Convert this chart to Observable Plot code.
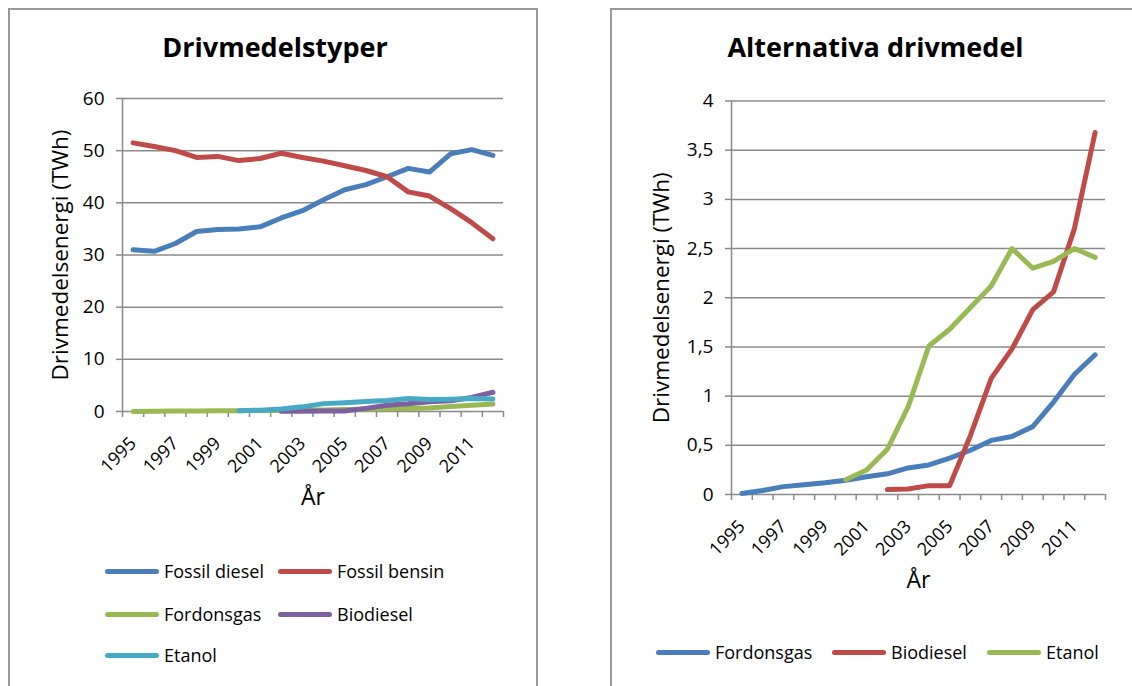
<!DOCTYPE html>
<html>
<head>
<meta charset="utf-8">
<script src="https://cdn.jsdelivr.net/npm/d3@7"></script>
<script src="https://cdn.jsdelivr.net/npm/@observablehq/plot@0.6"></script>
<style>
  html, body { margin: 0; padding: 0; background: #fff; }
  #root { position: relative; width: 1132px; height: 686px; overflow: hidden; background: #fff; font-family: 'Open Sans', sans-serif; }
  .panel { position: absolute; border: 2px solid #9a9a9a; box-sizing: border-box; }
  .chart { position: absolute; top: 0; }
  .leg { position: absolute; display: flex; align-items: center; font-size: 18px; color: #000; white-space: nowrap; height: 24px; }
  .leg .sw { display: inline-block; width: 54px; height: 5px; border-radius: 3px; margin-right: 5px; }
</style>
</head>
<body>
<div id="root">
  <div class="panel" style="left:8px; top:8px; width:530px; height:720px;"></div>
  <div class="panel" style="left:610px; top:8px; width:600px; height:720px;"></div>
</div>
<script>
// ---- data ----
const years = [1995, 1996, 1997, 1998, 1999, 2000, 2001, 2002, 2003, 2004, 2005, 2006, 2007, 2008, 2009, 2010, 2011, 2012];
const labelYears = [1995, 1997, 1999, 2001, 2003, 2005, 2007, 2009, 2011];
const fossilDiesel = [31.0, 30.7, 32.2, 34.5, 34.9, 35.0, 35.4, 37.1, 38.5, 40.6, 42.5, 43.5, 45.0, 46.6, 45.9, 49.4, 50.2, 49.1];
const fossilBensin = [51.5, 50.8, 50.0, 48.7, 48.9, 48.1, 48.5, 49.5, 48.7, 48.0, 47.1, 46.2, 45.0, 42.1, 41.3, 38.9, 36.2, 33.1];
const fordonsgas = [0.01, 0.04, 0.08, 0.10, 0.12, 0.145, 0.18, 0.21, 0.27, 0.30, 0.37, 0.45, 0.55, 0.59, 0.69, 0.94, 1.22, 1.42];
const biodiesel = [null, null, null, null, null, null, null, 0.05, 0.055, 0.09, 0.09, 0.60, 1.18, 1.48, 1.88, 2.06, 2.70, 3.68];
const etanol = [null, null, null, null, null, 0.15, 0.25, 0.46, 0.89, 1.51, 1.68, 1.90, 2.12, 2.50, 2.30, 2.37, 2.50, 2.41];
const leftSeries = ["Fossil diesel", "Fossil bensin", "Fordonsgas", "Biodiesel", "Etanol"];
const rightSeries = ["Fordonsgas", "Biodiesel", "Etanol"];
const leftTicks = [0, 10, 20, 30, 40, 50, 60];
const rightTicks = [0, 0.5, 1, 1.5, 2, 2.5, 3, 3.5, 4];
const titles = ["Drivmedelstyper", "Alternativa drivmedel"];
const yLabel = "Drivmedelsenergi (TWh)";
const xLabel = "År";

// ---- styling ----
// series colours follow the order of the series within each chart
const palette = ["#4A7EBB", "#BE4B48", "#98B954", "#7D60A0", "#46AAC5"];
const GRID = "#8a8a8a";
const valuesOf = {
  "Fossil diesel": fossilDiesel,
  "Fossil bensin": fossilBensin,
  "Fordonsgas": fordonsgas,
  "Biodiesel": biodiesel,
  "Etanol": etanol
};
function rows(name) {
  return years.map((y, i) => ({year: y, value: valuesOf[name][i], series: name})).filter(d => d.value != null);
}
const boundaries = [years[0] - 0.5, ...years.map(y => y + 0.5)];
const xDomain = [years[0] - 0.5, years[years.length - 1] + 0.5];

function makeChart({series, ticks, yMax, fmt, width, height, mL, mR, mT, mB, title, titleDx, titleDy, yDx}) {
  return Plot.plot({
    width, height,
    marginLeft: mL, marginRight: mR, marginTop: mT, marginBottom: mB,
    style: {fontFamily: "'Open Sans', sans-serif", color: "#000", background: "transparent", overflow: "visible"},
    x: {domain: xDomain, axis: null},
    y: {domain: [0, yMax], axis: null},
    color: {domain: series, range: palette.slice(0, series.length)},
    marks: [
      Plot.gridY(ticks, {stroke: GRID, strokeOpacity: 1, strokeWidth: 1.5}),
      Plot.axisY(ticks, {tickSize: 6, tickPadding: 12, stroke: GRID, strokeWidth: 1.5, fontSize: 19, tickFormat: fmt, label: null}),
      Plot.ruleX([xDomain[0]], {stroke: GRID, strokeWidth: 1.5}),
      Plot.axisX(boundaries, {tickSize: 6, stroke: GRID, strokeWidth: 1.5, tickFormat: () => "", label: null}),
      Plot.axisX(labelYears, {tickSize: 0, tickPadding: 29, tickRotate: -45, fontSize: 18, tickFormat: d => String(d), label: null}),
      ...series.map(name => Plot.line(rows(name), {
        x: "year", y: "value", stroke: "series", strokeWidth: 5,
        strokeLinecap: "round", strokeLinejoin: "round"
      })),
      Plot.text([title], {text: d => d, frameAnchor: "top", dx: titleDx, dy: titleDy, fontSize: 27, fontWeight: "bold", lineAnchor: "middle"}),
      Plot.text([yLabel], {text: d => d, frameAnchor: "left", dx: yDx, rotate: -90, fontSize: 22.5, lineAnchor: "middle", textAnchor: "middle"}),
      Plot.text([xLabel], {text: d => d, frameAnchor: "bottom", dy: 86, fontSize: 23, lineAnchor: "middle"})
    ]
  });
}

const root = document.getElementById("root");

const left = makeChart({
  series: leftSeries, ticks: leftTicks, yMax: 60, fmt: d => String(d),
  width: 540, height: 520, mL: 122, mR: 37, mT: 98, mB: 109,
  title: titles[0], titleDx: -38, titleDy: -50, yDx: -62
});
left.classList.add("chart");
left.style.left = "0px";
root.appendChild(left);

const right = makeChart({
  series: rightSeries, ticks: rightTicks, yMax: 4, fmt: d => String(d).replace(".", ","),
  width: 532, height: 600, mL: 131, mR: 27, mT: 100.5, mB: 106,
  title: titles[1], titleDx: -43, titleDy: -53, yDx: -70
});
right.classList.add("chart");
right.style.left = "600px";
root.appendChild(right);

// ---- legends ----
function legendItem(name, color, x, y) {
  const d = document.createElement("div");
  d.className = "leg";
  d.style.left = x + "px";
  d.style.top = (y - 12) + "px";
  const sw = document.createElement("span");
  sw.className = "sw";
  sw.style.background = color;
  const t = document.createElement("span");
  t.textContent = name;
  d.appendChild(sw);
  d.appendChild(t);
  root.appendChild(d);
}
const leftLegendPos = [[105, 571], [278, 571], [105, 614], [278, 614], [105, 655]];
leftSeries.forEach((n, i) => legendItem(n, palette[i], leftLegendPos[i][0], leftLegendPos[i][1]));
const rightLegendPos = [[656, 652], [832, 652], [987, 652]];
rightSeries.forEach((n, i) => legendItem(n, palette[i], rightLegendPos[i][0], rightLegendPos[i][1]));
</script>
</body>
</html>
